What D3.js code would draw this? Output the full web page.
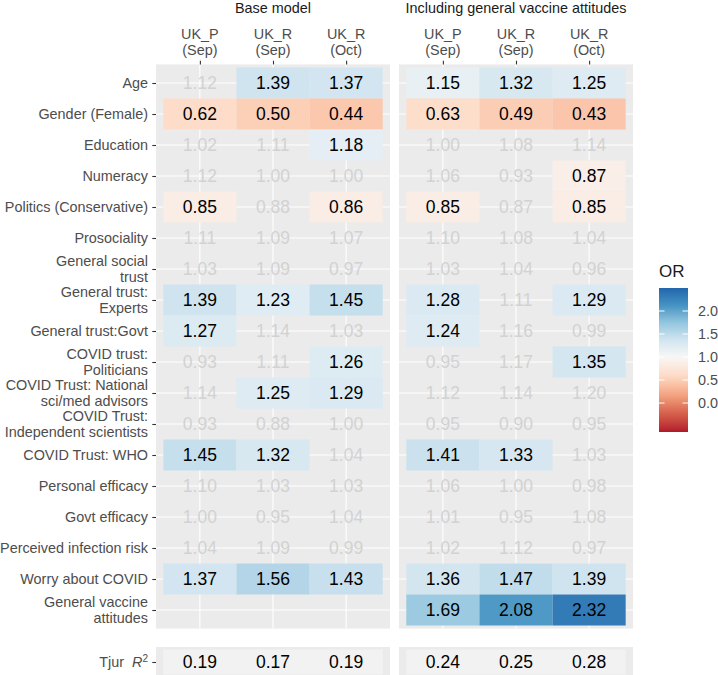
<!DOCTYPE html>
<html><head><meta charset="utf-8">
<script src="https://cdn.jsdelivr.net/npm/d3@7"></script>
<style>body{margin:0;background:#fff} text{font-family:"Liberation Sans",Arial,sans-serif}</style>
</head><body><svg id="c" width="718" height="675"></svg>
<script>
// ---------- data ----------
const predictors = ["Age","Gender (Female)","Education","Numeracy","Politics (Conservative)","Prosociality",
  "General social\ntrust","General trust:\nExperts","General trust:Govt","COVID trust:\nPoliticians",
  "COVID Trust: National\nsci/med advisors","COVID Trust:\nIndependent scientists","COVID Trust: WHO",
  "Personal efficacy","Govt efficacy","Perceived infection risk","Worry about COVID","General vaccine\nattitudes"];
const columns = ["UK_P\n(Sep)","UK_R\n(Sep)","UK_R\n(Oct)"];
const models = ["Base model","Including general vaccine attitudes"];

const baseUKPSep    = [1.12,0.62,1.02,1.12,0.85,1.11,1.03,1.39,1.27,0.93,1.14,0.93,1.45,1.10,1.00,1.04,1.37,null];
const baseUKPSepSig = [0,1,0,0,1,0,0,1,1,0,0,0,1,0,0,0,1,0];
const baseUKRSep    = [1.39,0.50,1.11,1.00,0.88,1.09,1.09,1.23,1.14,1.11,1.25,0.88,1.32,1.03,0.95,1.09,1.56,null];
const baseUKRSepSig = [1,1,0,0,0,0,0,1,0,0,1,0,1,0,0,0,1,0];
const baseUKROct    = [1.37,0.44,1.18,1.00,0.86,1.07,0.97,1.45,1.03,1.26,1.29,1.00,1.04,1.03,1.04,0.99,1.43,null];
const baseUKROctSig = [1,1,1,0,1,0,0,1,0,1,1,0,0,0,0,0,1,0];

const inclUKPSep    = [1.15,0.63,1.00,1.06,0.85,1.10,1.03,1.28,1.24,0.95,1.12,0.95,1.41,1.06,1.01,1.02,1.36,1.69];
const inclUKPSepSig = [1,1,0,0,1,0,0,1,1,0,0,0,1,0,0,0,1,1];
const inclUKRSep    = [1.32,0.49,1.08,0.93,0.87,1.08,1.04,1.11,1.16,1.17,1.14,0.90,1.33,1.00,0.95,1.12,1.47,2.08];
const inclUKRSepSig = [1,1,0,0,0,0,0,0,0,0,0,0,1,0,0,0,1,1];
const inclUKROct    = [1.25,0.43,1.14,0.87,0.85,1.04,0.96,1.29,0.99,1.35,1.20,0.95,1.03,0.98,1.08,0.97,1.39,2.32];
const inclUKROctSig = [1,1,0,1,1,0,0,1,0,1,0,0,0,0,0,0,1,1];

const tjurBase = [0.19,0.17,0.19];
const tjurIncl = [0.24,0.25,0.28];

const legendTicks = [0.0,0.5,1.0,1.5,2.0];
const legendLimits = [-0.63,2.5];

// ---------- build ----------
const panelData = [
  {model:models[0], vals:[baseUKPSep,baseUKRSep,baseUKROct], sig:[baseUKPSepSig,baseUKRSepSig,baseUKROctSig], tjur:tjurBase, x0:156, x1:390},
  {model:models[1], vals:[inclUKPSep,inclUKRSep,inclUKROct], sig:[inclUKPSepSig,inclUKRSepSig,inclUKROctSig], tjur:tjurIncl, x0:399, x1:633}
];

const svg = d3.select("#c");
const PANEL_TOP = 64.4, PANEL_BOT = 628.6;
const y = d3.scalePoint().domain(predictors).range([PANEL_TOP, PANEL_BOT]).padding(0.6);
const ys = y.step();

const rdbu = ["#b2182b","#d6604d","#f4a582","#fddbc7","#f7f7f7","#d1e5f0","#92c5de","#4393c3","#2166ac"];
const lo = legendLimits[0], hi = legendLimits[1];
const dom = [0,1,2,3,4].map(i => lo + i*(1-lo)/4).concat([1,2,3,4].map(i => 1 + i*(hi-1)/4));
const color = d3.scaleLinear().domain(dom).range(rdbu).interpolate(d3.interpolateLab).clamp(true);

const TJ_TOP = 647, TJ_BOT = 677;
const yT = d3.scalePoint().domain(["Tjur"]).range([TJ_TOP, TJ_BOT]).padding(0.6);
const yTs = (TJ_BOT-TJ_TOP)/1.2;

const AX_TXT = "#4d4d4d";

panelData.forEach((p, pi) => {
  const x = d3.scalePoint().domain(columns).range([p.x0, p.x1]).padding(0.6);
  const xs = x.step();
  const g = svg.append("g");
  g.append("rect").attr("x",p.x0).attr("y",PANEL_TOP).attr("width",p.x1-p.x0).attr("height",PANEL_BOT-PANEL_TOP).attr("fill","#ebebeb");
  g.selectAll(".hg").data(predictors).join("line").attr("x1",p.x0).attr("x2",p.x1)
    .attr("y1",d=>y(d)).attr("y2",d=>y(d)).attr("stroke","#fff").attr("stroke-width",1.1);
  g.selectAll(".vg").data(columns).join("line").attr("y1",PANEL_TOP).attr("y2",PANEL_BOT)
    .attr("x1",d=>x(d)).attr("x2",d=>x(d)).attr("stroke","#fff").attr("stroke-width",1.1);
  const cells = [];
  columns.forEach((c, ci) => predictors.forEach((r, ri) => {
    const v = p.vals[ci][ri];
    if (v !== null) cells.push({c, r, v, s: p.sig[ci][ri]});
  }));
  g.selectAll(".tile").data(cells.filter(d=>d.s)).join("rect")
    .attr("x",d=>x(d.c)-xs/2).attr("y",d=>y(d.r)-ys/2).attr("width",xs).attr("height",ys)
    .attr("fill",d=>color(d.v));
  g.selectAll(".lab").data(cells).join("text")
    .attr("x",d=>x(d.c)).attr("y",d=>y(d.r)).attr("dy","0.36em").attr("text-anchor","middle")
    .attr("font-size",17.5).attr("fill",d=>d.s?"#000":"#d2d2d2").text(d=>d.v.toFixed(2));
  const ax = g.append("g").attr("transform",`translate(0,${PANEL_TOP})`)
    .call(d3.axisTop(x).tickSize(3.7).tickFormat(""));
  ax.select(".domain").remove();
  ax.selectAll(".tick line").attr("stroke","#333").attr("stroke-width",1.1);
  columns.forEach(c => {
    const lines = c.split("\n");
    const t = g.append("text").attr("text-anchor","middle").attr("font-size",14.4).attr("fill",AX_TXT);
    lines.forEach((l, li) => t.append("tspan").attr("x",x(c)).attr("y",39 + li*15.8).text(l));
  });
  g.append("text").attr("x",(p.x0+p.x1)/2).attr("y",12.5).attr("text-anchor","middle")
    .attr("font-size",14.4).attr("fill","#1a1a1a").text(p.model);
  g.append("rect").attr("x",p.x0).attr("y",TJ_TOP).attr("width",p.x1-p.x0).attr("height",TJ_BOT-TJ_TOP).attr("fill","#ebebeb");
  g.append("rect").attr("x",x(columns[0])-xs/2).attr("y",yT("Tjur")-yTs/2).attr("width",xs*3).attr("height",yTs).attr("fill","#f2f2f2");
  g.selectAll(".tj").data(p.tjur).join("text")
    .attr("x",(d,i)=>x(columns[i])).attr("y",yT("Tjur")).attr("dy","0.36em").attr("text-anchor","middle")
    .attr("font-size",17.5).attr("fill","#000").text(d=>d.toFixed(2));
});

const yax = svg.append("g").attr("transform",`translate(${panelData[0].x0},0)`)
  .call(d3.axisLeft(y).tickSize(3.7).tickFormat(""));
yax.select(".domain").remove();
yax.selectAll(".tick line").attr("stroke","#333").attr("stroke-width",1.1);
predictors.forEach(r => {
  const lines = r.split("\n");
  const t = svg.append("text").attr("text-anchor","end").attr("font-size",14.4).attr("fill",AX_TXT);
  const lh = 15.5;
  const start = y(r) - (lines.length-1)*lh/2;
  lines.forEach((l, li) => t.append("tspan").attr("x",148).attr("y",start + li*lh).attr("dy","0.36em").text(l));
});
const yTax = svg.append("g").attr("transform",`translate(${panelData[0].x0},0)`)
  .call(d3.axisLeft(yT).tickSize(3.7).tickFormat(""));
yTax.select(".domain").remove();
yTax.selectAll(".tick line").attr("stroke","#333").attr("stroke-width",1.1);
const tj = svg.append("text").attr("x",148).attr("y",yT("Tjur")).attr("dy","0.36em").attr("text-anchor","end")
  .attr("font-size",14.4).attr("fill",AX_TXT);
tj.append("tspan").text("Tjur\u00a0\u00a0");
tj.append("tspan").attr("font-style","italic").text("R");
tj.append("tspan").attr("font-size",10).attr("dy","-0.55em").text("2");

const LX = 659, LW = 29, LT = 288, LB = 432;
const ly = d3.scaleLinear().domain(legendLimits).range([LB, LT]);
const defs = svg.append("defs");
const grad = defs.append("linearGradient").attr("id","lg").attr("x1",0).attr("x2",0).attr("y1",1).attr("y2",0);
d3.range(0,1.0001,0.025).forEach(t => {
  grad.append("stop").attr("offset",t).attr("stop-color",color(lo + t*(hi-lo)));
});
svg.append("text").attr("x",LX).attr("y",277).attr("font-size",17).attr("fill","#1a1a1a").text("OR");
svg.append("rect").attr("x",LX).attr("y",LT).attr("width",LW).attr("height",LB-LT).attr("fill","url(#lg)");
const lg = svg.append("g");
lg.selectAll(".tl").data(legendTicks).join("line").attr("x1",LX).attr("x2",LX+5.5)
  .attr("y1",d=>ly(d)).attr("y2",d=>ly(d)).attr("stroke","#fff").attr("stroke-width",1);
lg.selectAll(".tr").data(legendTicks).join("line").attr("x1",LX+LW-5.5).attr("x2",LX+LW)
  .attr("y1",d=>ly(d)).attr("y2",d=>ly(d)).attr("stroke","#fff").attr("stroke-width",1);
lg.selectAll(".tt").data(legendTicks).join("text").attr("x",698).attr("y",d=>ly(d)).attr("dy","0.36em")
  .attr("font-size",14.4).attr("fill",AX_TXT).text(d=>d.toFixed(1));
</script></body></html>
